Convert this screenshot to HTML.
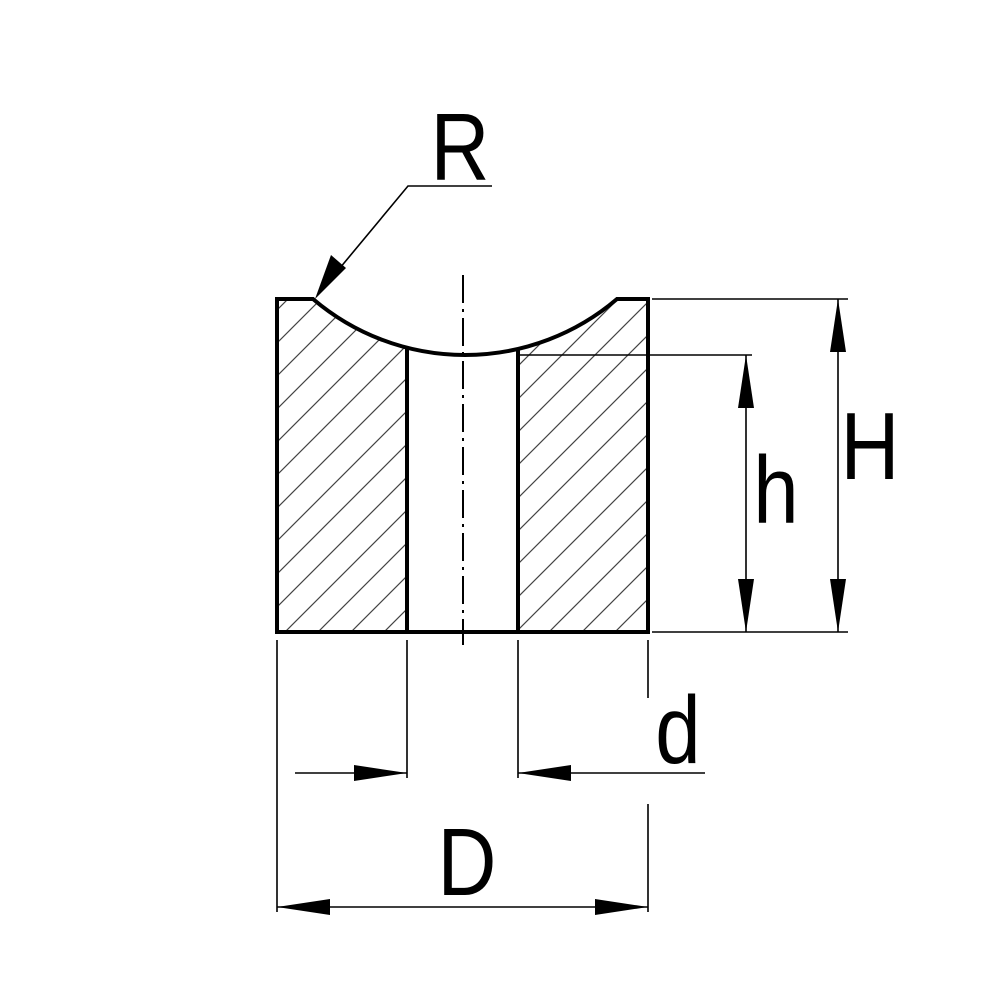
<!DOCTYPE html>
<html><head><meta charset="utf-8"><style>
html,body{margin:0;padding:0;background:#fff;width:1000px;height:1000px;overflow:hidden}
svg{display:block}
text{font-family:"Liberation Sans",sans-serif;fill:#000}
</style></head><body>
<svg width="1000" height="1000" viewBox="0 0 1000 1000">
<defs>
<pattern id="h" patternUnits="userSpaceOnUse" x="26" y="0" width="33" height="33">
<path d="M0 33L33 0M-2 2L2 -2M31 35L35 31" stroke="#444" stroke-width="1.2"/>
</pattern>
<clipPath id="cl"><path d="M277 299L313 299A234.3 234.3 0 0 0 407 348.5L407 632L277 632Z"/></clipPath>
<clipPath id="cr"><path d="M518 348.7A234.3 234.3 0 0 0 617 299L648 299L648 632L518 632Z"/></clipPath>
</defs>
<rect x="270" y="290" width="140" height="350" fill="url(#h)" clip-path="url(#cl)"/>
<rect x="515" y="290" width="140" height="350" fill="url(#h)" clip-path="url(#cr)"/>
<!-- outline -->
<path d="M277 632L277 299L313 299A234.3 234.3 0 0 0 617 299L648 299L648 632Z" fill="none" stroke="#000" stroke-width="4" stroke-linejoin="miter"/>
<path d="M407 348.5L407 632M518 348.7L518 632" stroke="#000" stroke-width="4"/>
<!-- centerline -->
<path d="M463 275L463 645" stroke="#000" stroke-width="2" stroke-dasharray="28,6,3,6"/>
<!-- thin lines -->
<g stroke="#000" stroke-width="1.6" fill="none">
<path d="M652 299L848 299M652 632L848 632M520 355L752 355"/>
<path d="M838 299L838 632M746 355L746 632"/>
<path d="M277 640L277 912M407 640L407 778M518 640L518 778M648 640L648 698M648 804L648 912"/>
<path d="M295 773L407 773M518 773L705 773M277 907L648 907"/>
<path d="M492 186L408 186L320 292"/>
</g>
<g fill="#000">
<path d="M838 299L830 352L846 352Z"/><path d="M838 632L830 579L846 579Z"/>
<path d="M746 355L738 408L754 408Z"/><path d="M746 632L738 579L754 579Z"/>
<path d="M407 773L354 765L354 781Z"/><path d="M518 773L571 765L571 781Z"/>
<path d="M277 907L330 899L330 915Z"/><path d="M648 907L595 899L595 915Z"/>
<path d="M315 299L331 255L346 268Z"/>
</g>
<text x="460" y="180" font-size="96" text-anchor="middle" transform="translate(460 0) scale(0.85 1) translate(-460 0)">R</text>
<text x="870" y="479" font-size="96" text-anchor="middle" transform="translate(870 0) scale(0.85 1) translate(-870 0)">H</text>
<text x="776" y="523" font-size="96" text-anchor="middle" transform="translate(776 0) scale(0.85 1) translate(-776 0)">h</text>
<text x="678" y="763" font-size="96" text-anchor="middle" transform="translate(678 0) scale(0.85 1) translate(-678 0)">d</text>
<text x="467" y="895" font-size="96" text-anchor="middle" transform="translate(467 0) scale(0.85 1) translate(-467 0)">D</text>
</svg>
</body></html>
